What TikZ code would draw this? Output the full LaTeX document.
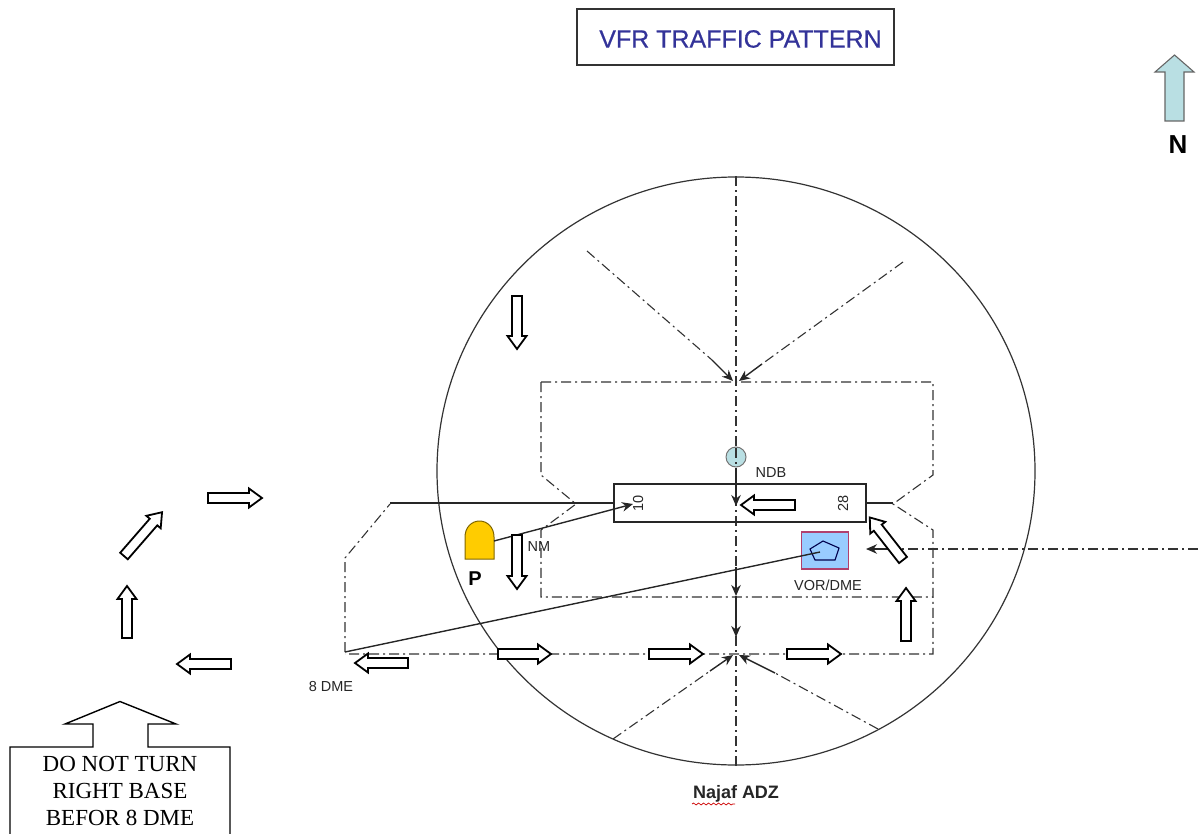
\documentclass[tikz,border=0pt]{standalone}
\usepackage{fontspec}
\setmainfont{Liberation Sans}
\newfontfamily\timesfont{Liberation Serif}
\newfontfamily\titlefont[FakeBold=0.6]{Liberation Sans}
\usetikzlibrary{arrows.meta,shapes.geometric,decorations.pathmorphing}
\definecolor{titleblue}{HTML}{333399}
\definecolor{paleteal}{HTML}{B9DFE3}
\definecolor{vorblue}{HTML}{99CCFF}
\definecolor{vorrim}{HTML}{B0406E}
\definecolor{padgold}{HTML}{FFCC00}
\newcommand{\fsz}[1]{\fontsize{#1}{#1}\selectfont}
\newcommand{\hollowarrow}[3]{%
  \pgfmathsetmacro{\hbase}{#3-13}%
  \draw[hollowstyle,shift={(#1)},rotate=#2]
    (0,-5) -- (\hbase,-5) -- (\hbase,-9.5) -- (#3,0) -- (\hbase,9.5) -- (\hbase,5) -- (0,5) -- cycle;}
\tikzset{
  solidline/.style={line width=1.4pt,draw=black!85},
  dashline/.style={line width=1.1pt,draw=black!80,dash pattern=on 10pt off 4pt on 2pt off 4pt},
  tipped/.style={solidline,-{Stealth[length=11pt,width=9.5pt]}},
  hollowstyle/.style={line width=1.8pt,draw=black,fill=white,line join=miter},
  smalllabel/.style={font=\fsz{14.5},text=black!85,inner sep=0pt},
  boldlabel/.style={font=\bfseries\fsz{#1},inner sep=0pt},
}
\begin{document}
\begin{tikzpicture}[x=1pt,y=-1pt]
\useasboundingbox (0,0) rectangle (1198,834);

% ADZ circle
\node[ellipse,draw=black!80,line width=1.2pt,minimum width=598pt,minimum height=588pt,inner sep=0pt] (adz) at (736,471) {};

% named points
\coordinate (nwend) at (587,251);
\coordinate (neend) at (903,262);
\coordinate (swend) at (613,739);
\coordinate (seend) at (878,729);
\coordinate (east) at (1198,549);
\coordinate (eastmid) at (890,549);
\coordinate (eastip) at (866,549);
\coordinate (farsw) at (345,652);

% centreline and approach lines
\draw[dashline] (adz.north) -- (adz.south);
\draw[dashline] (nwend) -- (712,360);
\draw[dashline] (neend) -- (762,364);
\draw[tipped] (712,360) -- (733,381);
\draw[tipped] (762,364) -- (739,381);
\draw[dashline] (swend) -- (710,671);
\draw[dashline] (seend) -- (775,673);
\draw[tipped] (710,671) -- (733,655);
\draw[tipped] (775,673) -- (739,655);

% pattern outlines
\draw[dashline] (541,382) -- (933,382) -- (933,475) -- (893,504) -- (933,530) -- (933,654) -- (345,654);
\draw[dashline] (541,382) -- (541,475) -- (576,504) -- (541,530) -- (541,597) -- (933,597);
\draw[dashline] (345,652) -- (345,558) -- (390,504);
\draw[dashline] (east) -- (eastmid);
\draw[tipped] (eastmid) -- (eastip);

% runway
\node[draw=black!85,line width=1.2pt,minimum width=252pt,minimum height=38pt,inner sep=0pt] (rwy) at (740,503) {};
\coordinate (rwl) at (390,503);
\coordinate (rwr) at (893,503);
\draw[solidline] (rwl) -- (rwy.west);
\draw[solidline] (rwy.east) -- (rwr);
\node[smalllabel,rotate=90] (r10) at (638,503) {10};
\node[smalllabel,rotate=90] (r28) at (843,503) {28};

% NDB
\node[circle,draw=black!55,fill=paleteal,line width=1pt,minimum size=20pt,inner sep=0pt] (ndb) at (736,457) {};
\draw[dashline] (736,448) -- (736,466);
\node[smalllabel] (ndbl) at (771,473) {NDB};
\coordinate (rwyc) at (736,506);
\draw[tipped] (ndb.south) -- (rwyc);

% VOR/DME
\node[draw=vorrim,fill=vorblue,line width=1.1pt,minimum width=47pt,minimum height=37pt,inner sep=0pt] (vor) at (825,550.5) {};
\draw[draw=black!70!blue,line width=1.1pt] (823,541) -- (839,548) -- (835,560) -- (815,560) -- (810,549) -- cycle;
\node[smalllabel] (vorl) at (828,585) {VOR/DME};
\coordinate (vorin) at (820,552);
\draw[solidline] (farsw) -- (vorin);

% descending track
\coordinate (d1) at (736,567);
\coordinate (d2) at (736,596);
\coordinate (d3) at (736,637);
\draw[tipped] (d1) -- (d2);
\draw[tipped] (d2) -- (d3);

% P
\draw[draw=black!50!padgold,fill=padgold,line width=1pt] (465,559) -- (465,537)
  .. controls (465,527) and (472,521) .. (479.5,521) .. controls (487,521) and (494,527) .. (494,537)
  -- (494,559) -- cycle;
\coordinate (pout) at (494,541);
\coordinate (ptip) at (633,504);
\draw[tipped] (pout) -- (ptip);
\node[boldlabel=20] (pl) at (475,579) {P};
\node[smalllabel] (nm) at (539,547) {NM};

% hollow arrows
\hollowarrow{208,498}{0}{54}
\hollowarrow{124,556}{49}{58}
\hollowarrow{127,638}{90}{52}
\hollowarrow{231,664}{180}{54}
\hollowarrow{408,663}{180}{53}
\hollowarrow{498,654}{0}{53}
\hollowarrow{649,654}{0}{54}
\hollowarrow{787,654}{0}{54}
\hollowarrow{906,641}{90}{53}
\hollowarrow{903,560}{128}{54}
\hollowarrow{795,505}{180}{54}
\hollowarrow{517,535}{-90}{54}
\hollowarrow{517,296}{-90}{53}

% labels
\node[smalllabel] (dme8) at (331,687) {8 DME};
\node[boldlabel=18,text=black!85] (adzl) at (736,794) {Najaf ADZ};
\coordinate (w1) at (692,804);
\coordinate (w2) at (735,804);
\draw[red!80!black,line width=.7pt,decorate,decoration={snake,amplitude=1pt,segment length=5pt}] (w1) -- (w2);

% title
\node[draw=black!80,line width=1.1pt,minimum width=317pt,minimum height=56pt,inner sep=0pt] (titlebox) at (735.5,37) {};
\node[font=\titlefont\fsz{25},text=titleblue,inner sep=0pt] (title) at (740.5,39) {VFR TRAFFIC PATTERN};

% north arrow
\draw[draw=black!60,fill=paleteal,line width=1.1pt] (1165,121) -- (1165,72) -- (1155,72) -- (1174.5,55) -- (1194,72) -- (1184,72) -- (1184,121) -- cycle;
\node[boldlabel=26] (north) at (1178,145) {N};

% callout
\draw[line width=1.4pt,fill=white] (10,835) -- (10,747) -- (93,747) -- (93,724) -- (65,724) -- (120,701.5) -- (176,724) -- (148,724) -- (148,747) -- (230,747) -- (230,835);
\node[font=\timesfont\fsz{23},inner sep=0pt,align=center] (c1) at (120,764) {DO NOT TURN};
\node[font=\timesfont\fsz{23},inner sep=0pt,align=center] (c2) at (120,791) {RIGHT BASE};
\node[font=\timesfont\fsz{23},inner sep=0pt,align=center] (c3) at (120,818) {BEFOR 8 DME};
\end{tikzpicture}
\end{document}
